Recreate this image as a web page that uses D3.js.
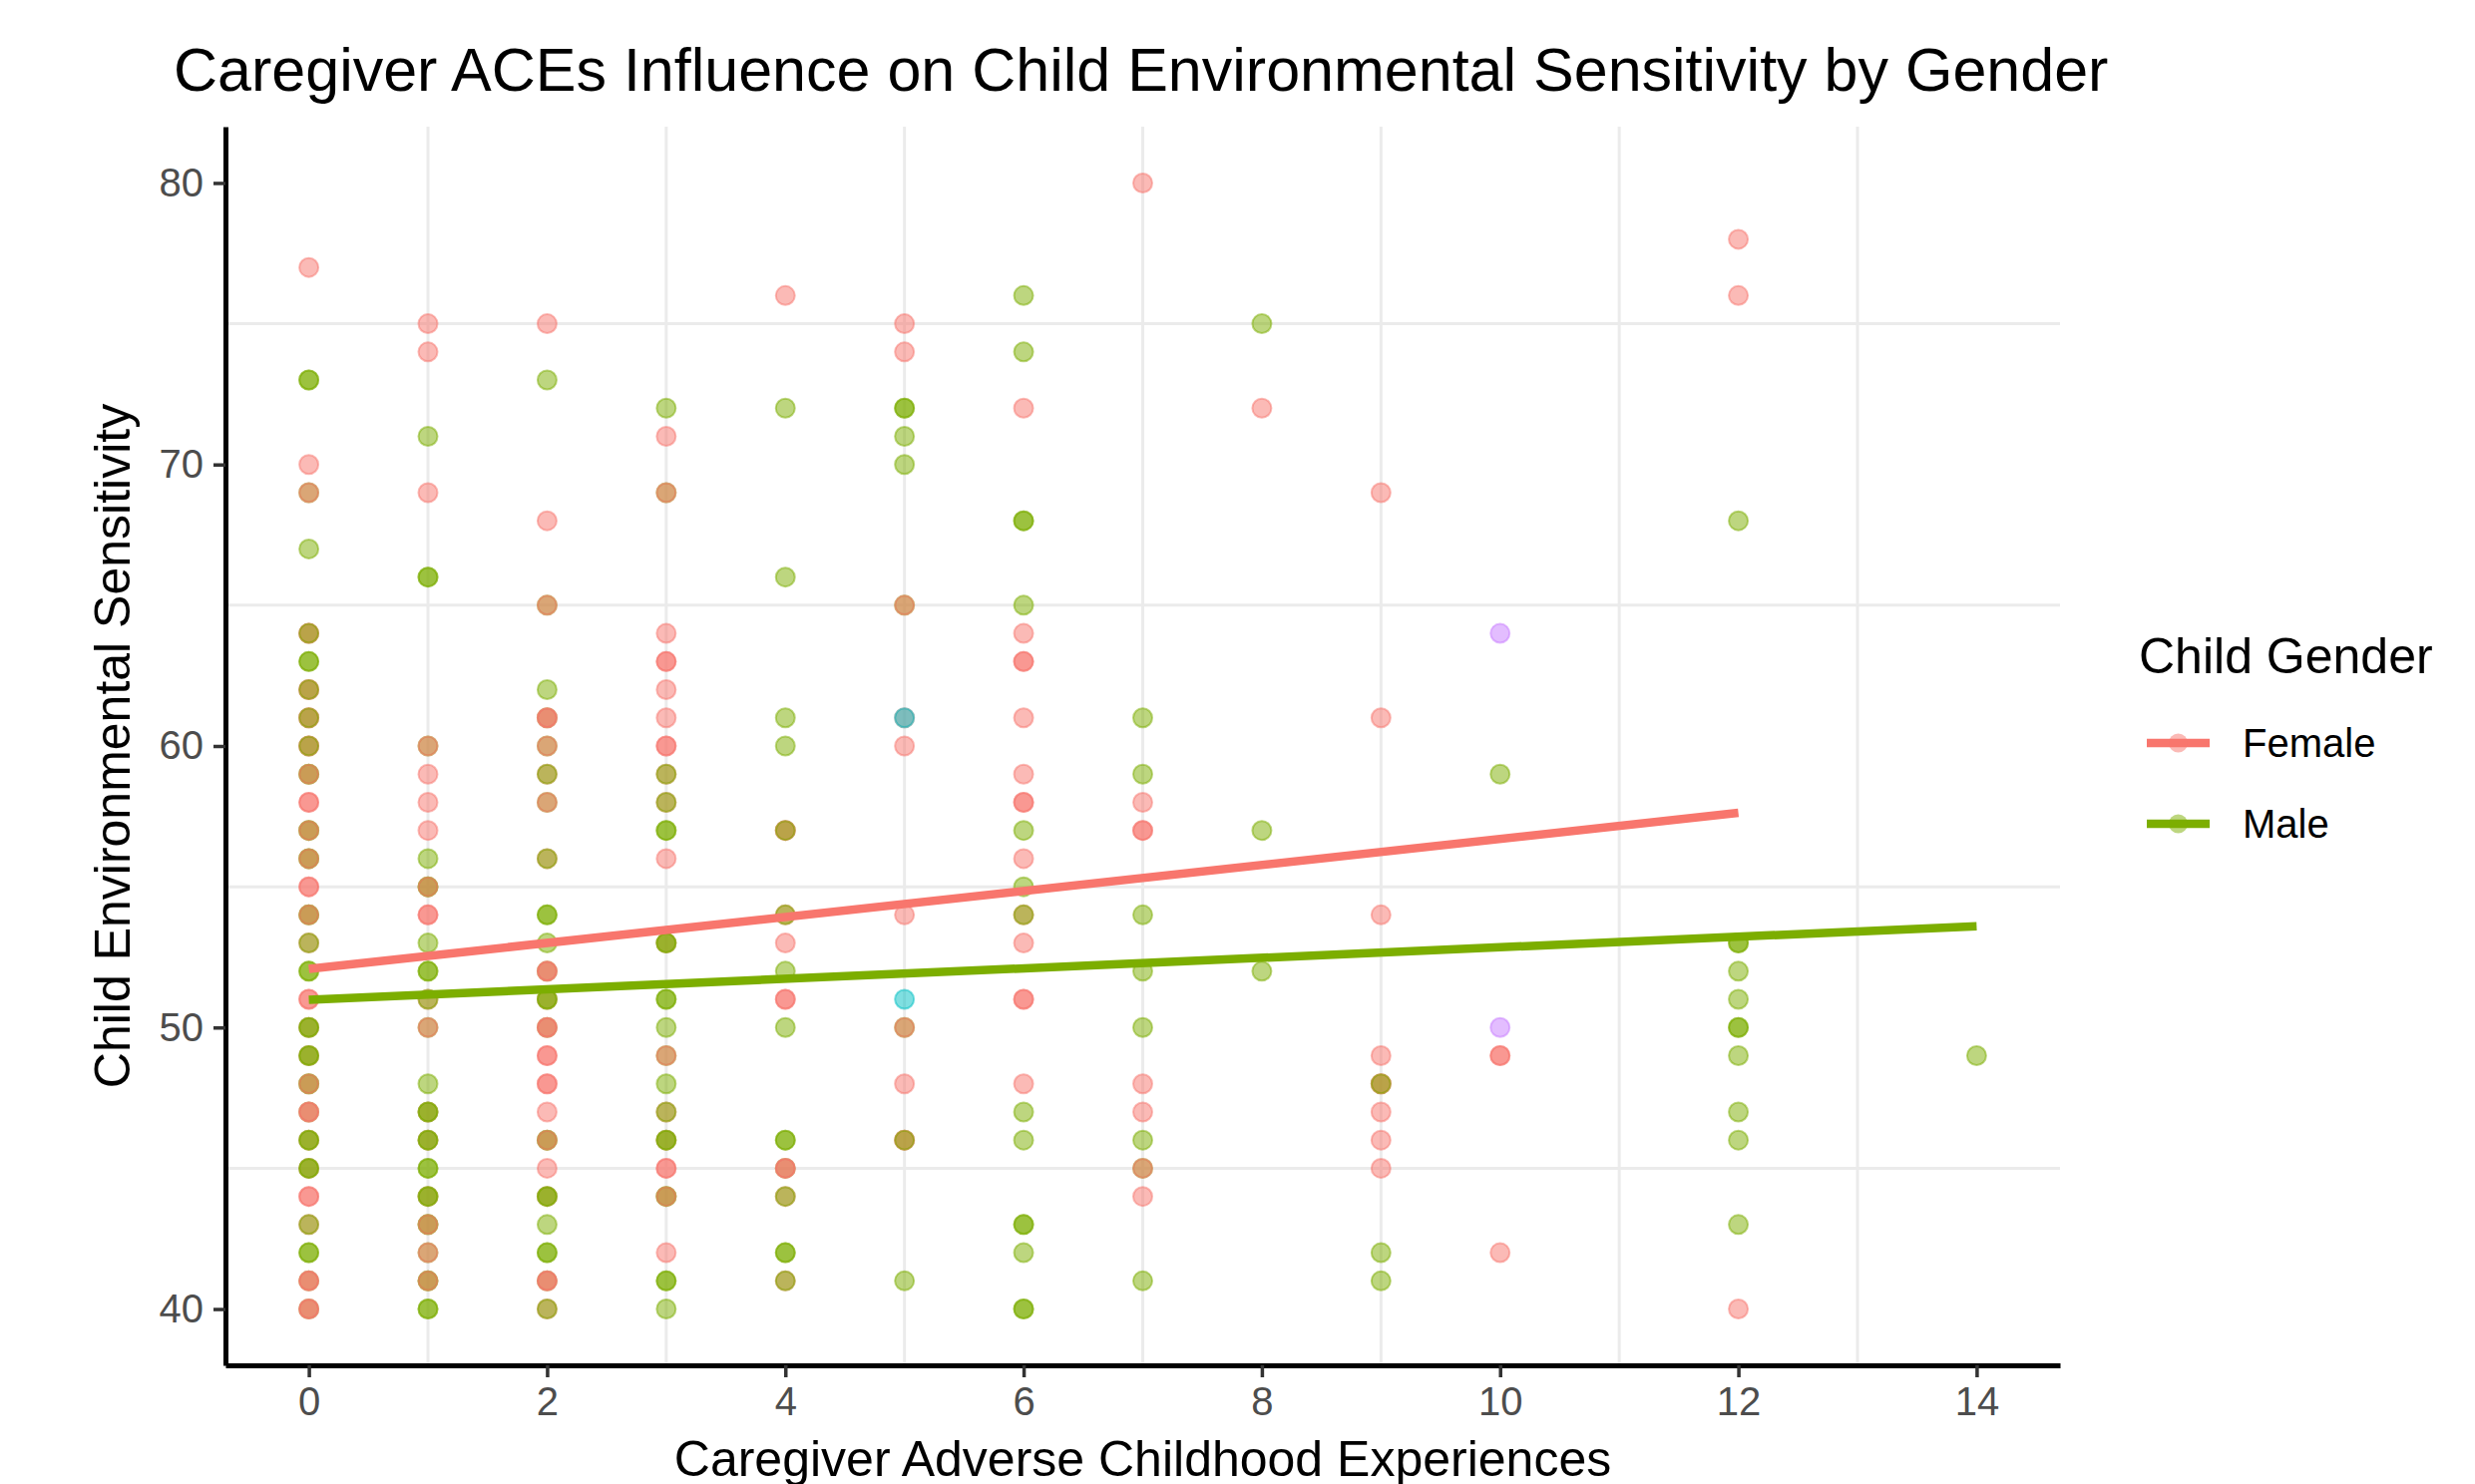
<!DOCTYPE html>
<html lang="en">
<head>
<meta charset="utf-8">
<title>Caregiver ACEs Influence on Child Environmental Sensitivity by Gender</title>
<style>
  body { margin: 0; background: #fff; }
  svg { display: block; font-family: "Liberation Sans", Arial, Helvetica, sans-serif; }
</style>
</head>
<body>
<svg width="2481" height="1488"></svg>
<script src="https://d3js.org/d3.v7.min.js"></script>
<script>

// caregiver ACE score for each column of points
var aceLevels = [0, 1, 2, 3, 4, 5, 6, 7, 8, 9, 10, 12, 14];

// child sensitivity scores per ACE level, in plotting order
// (females listed first, then males, then later female rows that sit on top)
var femaleFirst = [
  [77,70,64,64,62,62,61,61,60,60,58,58,55,55,53,51,51,50,49,46,45,44,44,43],
  [75,74,69,59,58,57,54,54,51,47,46,44],
  [75,68,59,56,51,49,49,48,48,47,45,44,40],
  [71,64,63,63,62,61,60,60,59,58,56,53,47,46,45,45,42],
  [76,57,57,54,53,51,51,44,41],
  [75,74,61,60,54,48,46,46],
  [72,64,63,63,61,59,58,58,56,54,53,51,51,48],
  [80,58,57,57,48,47,44],
  [72],
  [69,61,54,49,48,48,47,46,45],
  [49,49,42],
  [78,76,40],
  []
];

var maleScores = [
  [73,73,69,67,64,63,63,62,61,60,59,59,57,57,56,56,54,54,53,52,52,50,50,49,49,48,48,47,46,46,45,45,43,42,42,41,40],
  [71,66,66,60,56,55,55,53,52,52,51,50,48,47,47,46,46,45,45,44,44,43,43,42,41,41,40,40],
  [73,65,62,61,60,59,58,56,54,54,53,52,51,51,50,46,46,44,44,43,42,42,41,40],
  [72,69,59,58,57,57,53,53,51,51,50,49,48,47,46,46,44,44,41,41,40],
  [72,66,61,60,57,54,52,50,46,46,45,44,42,42,41],
  [72,72,71,70,65,50,46,41],
  [76,74,68,68,65,57,55,54,47,46,43,43,42,40,40],
  [61,59,54,52,50,46,45,41],
  [75,57,52],
  [48,42,41],
  [59],
  [68,53,53,52,51,50,50,49,47,46,43],
  [49]
];

var femaleLater = [
  [69,59,57,56,54,48,47,47,41,41,40,40],
  [60,55,50,43,42,41],
  [65,61,61,60,58,52,52,50,50,46,41,41],
  [69,49,44],
  [45,45],
  [65,50],
  [], [45], [], [], [], [], []
];

// two small groups outside the legend
var thirdGroup = [[5, 61], [5, 51]];
var fourthGroup = [[10, 64], [10, 50]];

// linear fits: [intercept, slope, last ACE]
var femaleFit = [52.08, 0.462, 12];
var maleFit = [50.98, 0.187, 14];

var legendLabels = ["Female", "Male"];
var xTicks = [0, 2, 4, 6, 8, 10, 12, 14];
var yTicks = [40, 50, 60, 70, 80];
var xMinor = [1, 3, 5, 7, 9, 11, 13];
var yMinor = [45, 55, 65, 75];

var colFemale = "#F8766D", colMale = "#7CAE00", colThird = "#00BFC4", colFourth = "#C77CFF";

var svg = d3.select("svg");
var panelL = 226, panelR = 2065, panelT = 127, panelB = 1369;

var x = d3.scaleLinear().domain([-0.7, 14.7]).range([panelL, panelR]);
var y = d3.scaleLinear().domain([38, 82]).range([panelB, panelT]);

svg.append("rect").attr("width", 2481).attr("height", 1488).attr("fill", "#fff");

// minor grid
var grid = svg.append("g").attr("stroke", "#ebebeb").attr("stroke-width", 3);
grid.selectAll(".gx").data(xMinor).enter().append("line")
    .attr("x1", function(d) { return x(d); }).attr("x2", function(d) { return x(d); })
    .attr("y1", panelT).attr("y2", panelB);
grid.selectAll(".gy").data(yMinor).enter().append("line")
    .attr("y1", function(d) { return y(d); }).attr("y2", function(d) { return y(d); })
    .attr("x1", panelL).attr("x2", panelR);

function flatten(groups) {
  var out = [];
  groups.forEach(function(scores, i) {
    scores.forEach(function(s) { out.push([aceLevels[i], s]); });
  });
  return out;
}

function drawPoints(data, color) {
  svg.append("g").selectAll("circle")
    .data(data)
    .enter().append("circle")
      .attr("cx", function(d) { return x(d[0]); })
      .attr("cy", function(d) { return y(d[1]); })
      .attr("r", 9.5)
      .attr("fill", color)
      .attr("fill-opacity", 0.5)
      .attr("stroke", color)
      .attr("stroke-width", 2)
      .attr("stroke-opacity", 0.5);
}

drawPoints(flatten(femaleFirst), colFemale);
drawPoints(flatten(maleScores), colMale);
drawPoints(flatten(femaleLater), colFemale);
drawPoints(thirdGroup, colThird);
drawPoints(fourthGroup, colFourth);

// fit lines
[[femaleFit, colFemale], [maleFit, colMale]].forEach(function(f) {
  var fit = f[0];
  var ends = [0, fit[2]].map(function(a) { return [a, fit[0] + fit[1] * a]; });
  svg.append("path")
    .datum(ends)
    .attr("fill", "none")
    .attr("stroke", f[1])
    .attr("stroke-width", 8.5)
    .attr("d", d3.line().x(function(d) { return x(d[0]); }).y(function(d) { return y(d[1]); }));
});

// axes
var xAxis = svg.append("g")
    .attr("transform", "translate(0," + panelB + ")")
    .call(d3.axisBottom(x).tickValues(xTicks).tickSize(12).tickSizeOuter(0).tickPadding(10));
var yAxis = svg.append("g")
    .attr("transform", "translate(" + panelL + ",0)")
    .call(d3.axisLeft(y).tickValues(yTicks).tickSize(12).tickSizeOuter(0).tickPadding(10));

[xAxis, yAxis].forEach(function(ax) {
  ax.select(".domain").attr("stroke", "#000").attr("stroke-width", 5);
  ax.selectAll(".tick line").attr("stroke", "#333").attr("stroke-width", 3.5);
  ax.selectAll(".tick text").attr("fill", "#4d4d4d").attr("font-size", 40)
    .attr("font-family", "Liberation Sans, Arial, sans-serif");
});

// titles
svg.append("text")
    .attr("x", 174).attr("y", 91)
    .attr("font-size", 61)
    .text("Caregiver ACEs Influence on Child Environmental Sensitivity by Gender");

svg.append("text")
    .attr("x", (panelL + panelR) / 2).attr("y", 1480)
    .attr("text-anchor", "middle")
    .attr("font-size", 50)
    .text("Caregiver Adverse Childhood Experiences");

svg.append("text")
    .attr("transform", "translate(130," + ((panelT + panelB) / 2) + ") rotate(-90)")
    .attr("text-anchor", "middle")
    .attr("font-size", 50)
    .text("Child Environmental Sensitivity");

// legend
var legend = svg.append("g").attr("transform", "translate(2144,0)");
legend.append("text").attr("x", 0).attr("y", 675).attr("font-size", 50).text("Child Gender");

var keys = legend.selectAll(".key")
  .data(legendLabels)
  .enter().append("g")
    .attr("transform", function(d, i) { return "translate(0," + (745 + i * 81) + ")"; });

keys.append("line")
    .attr("x1", 8).attr("x2", 71)
    .attr("stroke", function(d, i) { return i ? colMale : colFemale; })
    .attr("stroke-width", 8.5);
keys.append("circle")
    .attr("cx", 39.5).attr("r", 9.5)
    .attr("fill", function(d, i) { return i ? colMale : colFemale; })
    .attr("fill-opacity", 0.5);
keys.append("text")
    .attr("x", 104).attr("dy", "0.35em")
    .attr("font-size", 40)
    .text(function(d) { return d; });

</script>
</body>
</html>
